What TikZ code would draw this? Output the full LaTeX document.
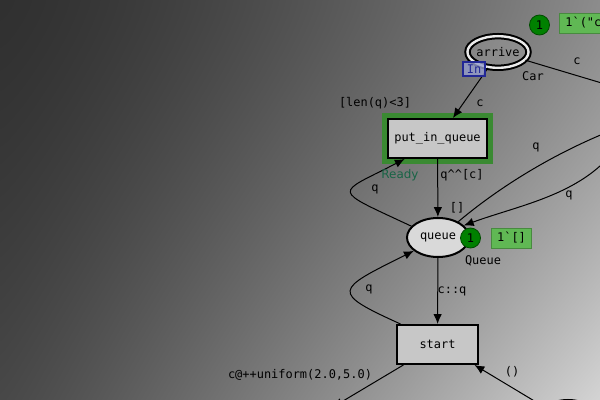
\documentclass[tikz,border=0pt]{standalone}
\usepackage{fontspec}
\setmainfont{DejaVu Sans}
\setmonofont{DejaVu Sans Mono}
\usetikzlibrary{arrows.meta, positioning, shapes.geometric}
\definecolor{tokengreen}{RGB}{0, 128, 0}
\definecolor{markgreen}{RGB}{96, 184, 84}
\definecolor{readygreen}{RGB}{25, 100, 70}
\definecolor{hilite}{RGB}{58, 138, 50}
\definecolor{portblue}{RGB}{35, 40, 150}
\definecolor{portfill}{RGB}{150, 158, 205}
\pgfdeclarefunctionalshading{cpnbg}{\pgfpoint{0bp}{0bp}}{\pgfpoint{100bp}{100bp}}{}{
    75 exch sub 50 div
    dup 0 lt {pop 0} if dup 1 gt {pop 1} if
    1.3 exp
    exch 25 sub 50 div
    dup 0 lt {pop 0} if dup 1 gt {pop 1} if
    dup 1.4 exp 92 mul 48 add
    exch 1.2 exp 140 mul 72 add
    1 index sub
    3 -1 roll mul add
    255 div dup dup
}

\tikzset{
    cpnfont/.style={font=\ttfamily\fontsize{8.5}{10}\selectfont},
    place/.style={ellipse, draw, line width=0.05cm, fill=black!15, inner sep=0pt, cpnfont},
    trans/.style={rectangle, draw, line width=0.05cm, fill=black!22, inner sep=0pt, minimum height=0.975cm, cpnfont},
    arc/.style={-{Latex[length=7pt, width=6pt]}, line width=0.025cm},
    inscr/.style={inner sep=0pt, cpnfont},
    token/.style={circle, fill=tokengreen, draw=tokengreen!60!black, line width=0.02cm, minimum size=0.5cm, inner sep=0pt, cpnfont},
    markbox/.style={rectangle, fill=markgreen, draw=markgreen!75!black, line width=0.02cm, minimum height=0.5cm, inner xsep=0.15cm, inner ysep=0pt, cpnfont},
    porttag/.style={rectangle, fill=portfill, fill opacity=0.8, text opacity=1, draw=portblue, line width=0.03cm, text=portblue, inner sep=0pt, minimum width=0.55cm, minimum height=0.35cm, cpnfont}
}

\begin{document}
\begin{tikzpicture}[x=0.025cm, y=-0.025cm]
    \clip (0,0) rectangle (600,400);
    \shade[shading=cpnbg] (0,0) rectangle (600,400);

    % places and transitions
    \node[place, double=black!8, double distance=0.06cm, line width=0.05cm, fill=white, fill opacity=0.12, text opacity=1, minimum width=1.34cm, minimum height=0.79cm] (arrive) at (498,52) {arrive};
    \node[place, minimum width=1.55cm, minimum height=0.975cm] (queue) at (438,237.5) {queue};
    \node[place, minimum width=1.5cm, minimum height=1cm] (lowerplace) at (568,420) {};
    \node[trans, minimum width=2.475cm, preaction={draw=hilite, line width=0.3cm}] (putq) at (437.5,138.5) {put\_in\_queue};
    \node[trans, minimum width=2.025cm] (start) at (437.5,344.5) {start};

    \coordinate (a1) at (615,87);
    \coordinate (r1) at (615,129);
    \coordinate (r2) at (615,150);
    \coordinate (b1) at (333,407);
    \coordinate (b2) at (541,405);

    \draw[arc] (arrive.238) -- (putq.53);
    \draw[line width=0.025cm] (arrive) -- (a1);
    \draw[arc] (putq) -- (queue);
    \draw[arc] (queue.157) .. controls (330,188) and (335,195) .. (putq.212);
    \draw[arc] (queue.38) .. controls (490,195) and (540,160) .. (r1);
    \draw[arc] (r2) .. controls (580,195) and (520,205) .. (queue.25);
    \draw[arc] (queue) -- (start);
    \draw[arc] (start.151) .. controls (330,292) and (335,290) .. (queue.209);
    \draw[arc] (start.211) -- (b1);
    \draw[arc] (b2) -- (start.-29);

    \node[porttag] (arriveport) at (474,69) {In};
    \node[token] (arrivetok) at (539.5,25) {1};
    \node[markbox, anchor=west, text width=2cm, align=left] (arrivemark) at (559,23) {1`("c};
    \node[token] (queuetok) at (470.5,238) {1};
    \node[markbox] (queuemark) at (511.5,238) {1`[]};

    % inscriptions
    \node[inscr] (carlbl) at (533,76) {Car};
    \node[inscr] (queuelbl) at (483,261) {Queue};
    \node[inscr] (initlbl) at (457,208) {[]};
    \node[inscr] (guardlbl) at (375,103) {[len(q)<3]};
    \node[inscr, text=readygreen, font=\normalfont\fontsize{8.5}{10}\selectfont] (readylbl) at (400,175) {Ready};
    \node[inscr] (c1lbl) at (577,61) {c};
    \node[inscr] (c2lbl) at (480,103) {c};
    \node[inscr] (appendlbl) at (462,175) {q\textasciicircum\textasciicircum[c]};
    \node[inscr] (q1lbl) at (375,189) {q};
    \node[inscr] (q2lbl) at (536,147) {q};
    \node[inscr] (q3lbl) at (569,195) {q};
    \node[inscr] (q4lbl) at (369,289) {q};
    \node[inscr] (conslbl) at (452,291) {c::q};
    \node[inscr] (delaylbl) at (300,375) {c@++uniform(2.0,5.0)};
    \node[inscr] (unitlbl) at (512,372) {()};
\end{tikzpicture}
\end{document}
